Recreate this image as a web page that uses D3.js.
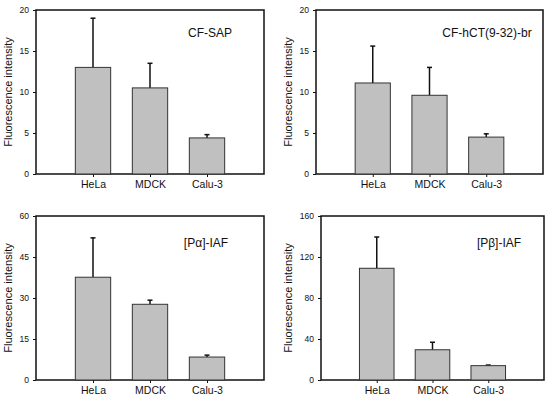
<!DOCTYPE html>
<html lang="en">
<head>
<meta charset="utf-8">
<title>Fluorescence intensity</title>
<script src="https://d3js.org/d3.v7.min.js"></script>
<style>
  body { margin: 0; background: #fff; }
  text { font-family: "Liberation Sans", Arial, sans-serif; fill: #111; }
  .yax .tick text { font-size: 8.5px; }
  .cat .tick text { font-size: 10.5px; }
  .ttl { font-size: 12px; }
  .ylab { font-size: 11px; }
</style>
</head>
<body>
<svg id="chart" width="550" height="400"></svg>
<script>
var cells = ["HeLa", "MDCK", "Calu-3"];

// panel titles
var titles = ["CF-SAP", "CF-hCT(9-32)-br", "[P\u03b1]-IAF", "[P\u03b2]-IAF"];

// means and upper error ends, one per panel
var sapMean = [13.0, 10.5, 4.4];
var sapErr  = [19.0, 13.5, 4.8];
var hctMean = [11.1, 9.6, 4.5];
var hctErr  = [15.6, 13.0, 4.9];
var alphaMean = [37.6, 27.7, 8.4];
var alphaErr  = [52.0, 29.2, 9.1];
var betaMean = [109, 29.5, 14.0];
var betaErr  = [139.5, 36.8, 14.6];

var yMax = [20, 20, 60, 160];
var yTicks = [[0, 5, 10, 15, 20], [0, 5, 10, 15, 20], [0, 15, 30, 45, 60], [0, 40, 80, 120, 160]];

var panels = [
  {x0: 36, x1: 264, y0: 10, y1: 174, lx: 8, mean: sapMean, err: sapErr, tx: 210, ty: 37},
  {x0: 316, x1: 543, y0: 10, y1: 174, lx: 288, mean: hctMean, err: hctErr, tx: 487, ty: 37},
  {x0: 36, x1: 264, y0: 216, y1: 380, lx: 8, mean: alphaMean, err: alphaErr, tx: 206, ty: 247},
  {x0: 321, x1: 544, y0: 216, y1: 380, lx: 288, mean: betaMean, err: betaErr, tx: 499, ty: 247}
];

var svg = d3.select("#chart");

panels.forEach(function(p, i) {
  var g = svg.append("g");
  var x = d3.scaleLinear().domain([0, 4]).range([p.x0, p.x1]);
  var y = d3.scaleLinear().domain([0, yMax[i]]).range([p.y1, p.y0]);
  var bw = (x(1) - x(0)) * 0.62;

  // frame
  g.append("rect")
    .attr("x", p.x0).attr("y", p.y0)
    .attr("width", p.x1 - p.x0).attr("height", p.y1 - p.y0)
    .attr("fill", "none").attr("stroke", "#111").attr("stroke-width", 1.5);

  var yAxis = g.append("g").attr("class", "yax")
    .attr("transform", "translate(" + p.x0 + ",0)")
    .call(d3.axisLeft(y).tickValues(yTicks[i]).tickSize(3).tickPadding(4));
  yAxis.select(".domain").remove();
  yAxis.selectAll("line").attr("stroke", "#111");

  var xAxis = g.append("g").attr("class", "cat")
    .attr("transform", "translate(0," + p.y1 + ")")
    .call(d3.axisBottom(x).tickValues([1, 2, 3]).tickFormat(function(d) { return cells[d - 1]; }).tickSize(3).tickPadding(4));
  xAxis.select(".domain").remove();
  xAxis.selectAll("line").attr("stroke", "#111");

  // error bars behind bars
  g.selectAll(".eb").data(cells).enter().append("line")
    .attr("x1", function(d, j) { return x(j + 1); })
    .attr("x2", function(d, j) { return x(j + 1); })
    .attr("y1", function(d, j) { return y(p.mean[j]); })
    .attr("y2", function(d, j) { return y(p.err[j]); })
    .attr("stroke", "#111").attr("stroke-width", 1.5);
  g.selectAll(".cap").data(cells).enter().append("line")
    .attr("x1", function(d, j) { return x(j + 1) - 2.5; })
    .attr("x2", function(d, j) { return x(j + 1) + 2.5; })
    .attr("y1", function(d, j) { return y(p.err[j]); })
    .attr("y2", function(d, j) { return y(p.err[j]); })
    .attr("stroke", "#111").attr("stroke-width", 1.5);

  g.selectAll(".bar").data(cells).enter().append("rect")
    .attr("x", function(d, j) { return x(j + 1) - bw / 2; })
    .attr("y", function(d, j) { return y(p.mean[j]); })
    .attr("width", bw)
    .attr("height", function(d, j) { return y(0) - y(p.mean[j]); })
    .attr("fill", "#c0c0c0").attr("stroke", "#333").attr("stroke-width", 1);

  g.append("text").attr("class", "ttl")
    .attr("x", p.tx).attr("y", p.ty).attr("text-anchor", "middle")
    .text(titles[i]);

  g.append("text").attr("class", "ylab")
    .attr("transform", "translate(" + p.lx + "," + ((p.y0 + p.y1) / 2) + ") rotate(-90)")
    .attr("text-anchor", "middle").attr("dy", "0.35em")
    .text("Fluorescence intensity");
});
</script>
</body>
</html>
